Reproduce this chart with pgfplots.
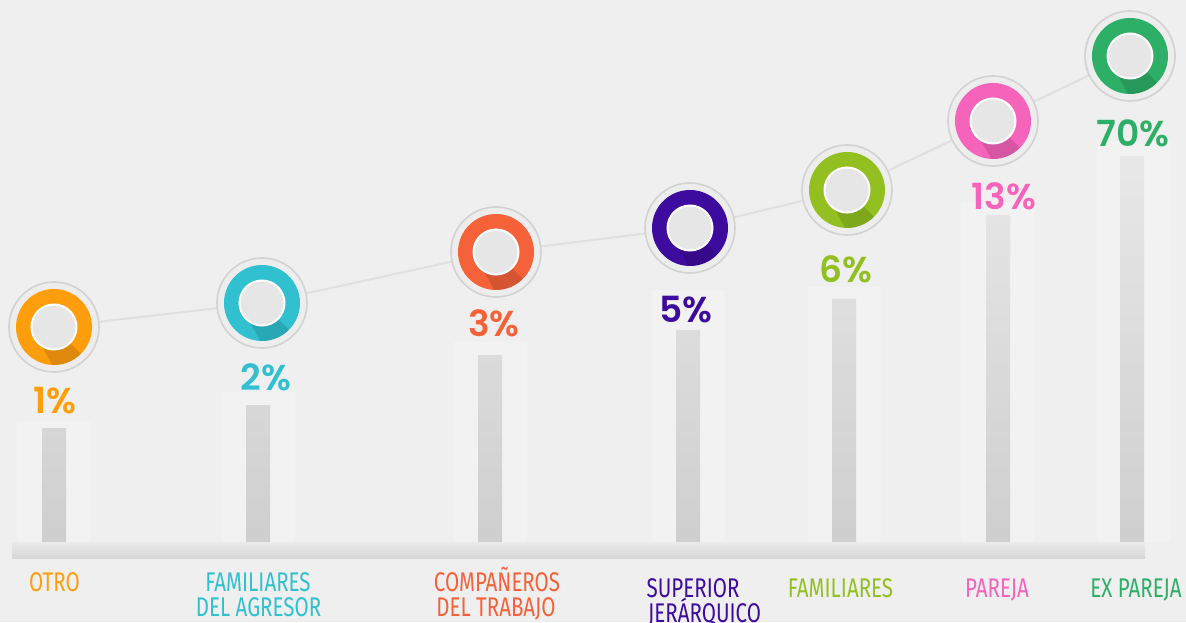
\documentclass[border=0pt]{standalone}
\usepackage{pgfplots}
\pgfplotsset{compat=1.18}
\usepackage{fontspec}
\setmainfont{Poppins}[BoldFont={Poppins SemiBold}]
\newfontfamily\condfont[FakeStretch=0.76]{Fira Sans}
\definecolor{bgc}{HTML}{EFEFEF}
\definecolor{halo}{HTML}{EDEDED}
\definecolor{haloedge}{HTML}{D2D2D2}
\definecolor{innerc}{HTML}{E6E6E6}
\definecolor{cOtro}{HTML}{FF9E0D}
\definecolor{cFamAg}{HTML}{30C0D0}
\definecolor{cComp}{HTML}{F5623A}
\definecolor{cSup}{HTML}{3D0B9E}
\definecolor{cFam}{HTML}{93C020}
\definecolor{cPar}{HTML}{F563BB}
\definecolor{cEx}{HTML}{2EAF68}
\pgfdeclareplotmark{ring}{%
  \begin{pgfscope}
    \pgfsetfillcolor{halo}\pgfsetstrokecolor{haloedge}\pgfsetlinewidth{1.6pt}
    \pgfpathcircle{\pgfpointorigin}{45pt}\pgfusepath{fill,stroke}
  \end{pgfscope}
  \pgfpathcircle{\pgfpointorigin}{38pt}\pgfusepath{fill}
  \begin{pgfscope}
    \pgfpathcircle{\pgfpointorigin}{38pt}\pgfusepath{clip}
    \pgfsetfillcolor{black}\pgfsetfillopacity{0.13}
    \pgfpathmoveto{\pgfpoint{-23pt}{0pt}}
    \pgfpathlineto{\pgfpoint{16pt}{-16pt}}
    \pgfpathlineto{\pgfpoint{42pt}{-42pt}}
    \pgfpathlineto{\pgfpoint{4pt}{-48pt}}
    \pgfpathclose\pgfusepath{fill}
  \end{pgfscope}
  \begin{pgfscope}
    \pgfsetfillcolor{innerc}\pgfsetstrokecolor{white}\pgfsetlinewidth{2pt}
    \pgfpathcircle{\pgfpointorigin}{22.5pt}\pgfusepath{fill,stroke}
  \end{pgfscope}
}
\newcommand\pct[4]{\node[anchor=base, text=#3, font=\fontsize{36}{40}\selectfont\bfseries] at (axis cs:#1,#2) {#4};}
\newcommand\cat[5][base]{\node[anchor=#1, text=#4, font=\condfont\fontsize{27}{27}\selectfont, inner sep=0pt] at (axis cs:#2,#3) {#5};}
\begin{document}
\begin{tikzpicture}
\useasboundingbox (0,0) rectangle (1186pt,622pt);
\clip (0,0) rectangle (1186pt,622pt);
\fill[bgc] (0,0) rectangle (1186pt,622pt);
\begin{axis}[at={(0,0)}, anchor=south west, scale only axis,
  width=1186pt, height=622pt, xmin=0, xmax=1186, ymin=-80, ymax=542,
  hide axis, clip=false]
% light bands behind bars
\addplot[ybar, bar width=73, draw=none, fill=white, fill opacity=0.22]
  coordinates {(54,120) (258,150) (490,200) (688,252) (844,255) (998,340) (1134,400)};
% bars
\addplot[ybar, bar width=24, draw=none, top color=black!9, bottom color=black!19]
  coordinates {(54,114) (258,137) (490,187) (688,212) (844,243) (998,327) (1132,386)};
% base bar
\addplot[ybar, bar width=1133, draw=none, top color=black!8, bottom color=black!16]
  coordinates {(578.5,-16)};
% connecting line
\addplot[line width=2pt, color=black!12] coordinates
  {(54,215) (262,239) (496,290) (690,314) (847,352) (993,421) (1130,486)};
% circles
\addplot[only marks, mark=ring, mark options={fill=cOtro}]  coordinates {(54,215)};
\addplot[only marks, mark=ring, mark options={fill=cFamAg}] coordinates {(262,239)};
\addplot[only marks, mark=ring, mark options={fill=cComp}]  coordinates {(496,290)};
\addplot[only marks, mark=ring, mark options={fill=cSup}]   coordinates {(690,314)};
\addplot[only marks, mark=ring, mark options={fill=cFam}]   coordinates {(847,352)};
\addplot[only marks, mark=ring, mark options={fill=cPar}]   coordinates {(993,421)};
\addplot[only marks, mark=ring, mark options={fill=cEx}]    coordinates {(1130,486)};
% percentages
\pct{55}{129}{cOtro}{1\%}
\pct{266}{152}{cFamAg}{2\%}
\pct{494}{205}{cComp}{3\%}
\pct{686}{219}{cSup}{5\%}
\pct{846}{259}{cFam}{6\%}
\pct{1004}{332}{cPar}{13\%}
\pct{1133}{395}{cEx}{70\%}
% categories
\cat{54.5}{-49}{cOtro}{OTRO}
\cat{258}{-49}{cFamAg}{FAMILIARES}
\cat{258.5}{-74}{cFamAg}{DEL AGRESOR}
\cat{497}{-49}{cComp}{COMPAÑEROS}
\cat{496}{-74}{cComp}{DEL TRABAJO}
\cat[base west]{646.5}{-55}{cSup}{SUPERIOR}
\cat[base west]{648}{-80}{cSup}{JERÁRQUICO}
\cat{840.5}{-55}{cFam}{FAMILIARES}
\cat{997}{-55}{cPar}{PAREJA}
\cat{1136}{-55}{cEx}{EX PAREJA}
\end{axis}
\end{tikzpicture}
\end{document}
